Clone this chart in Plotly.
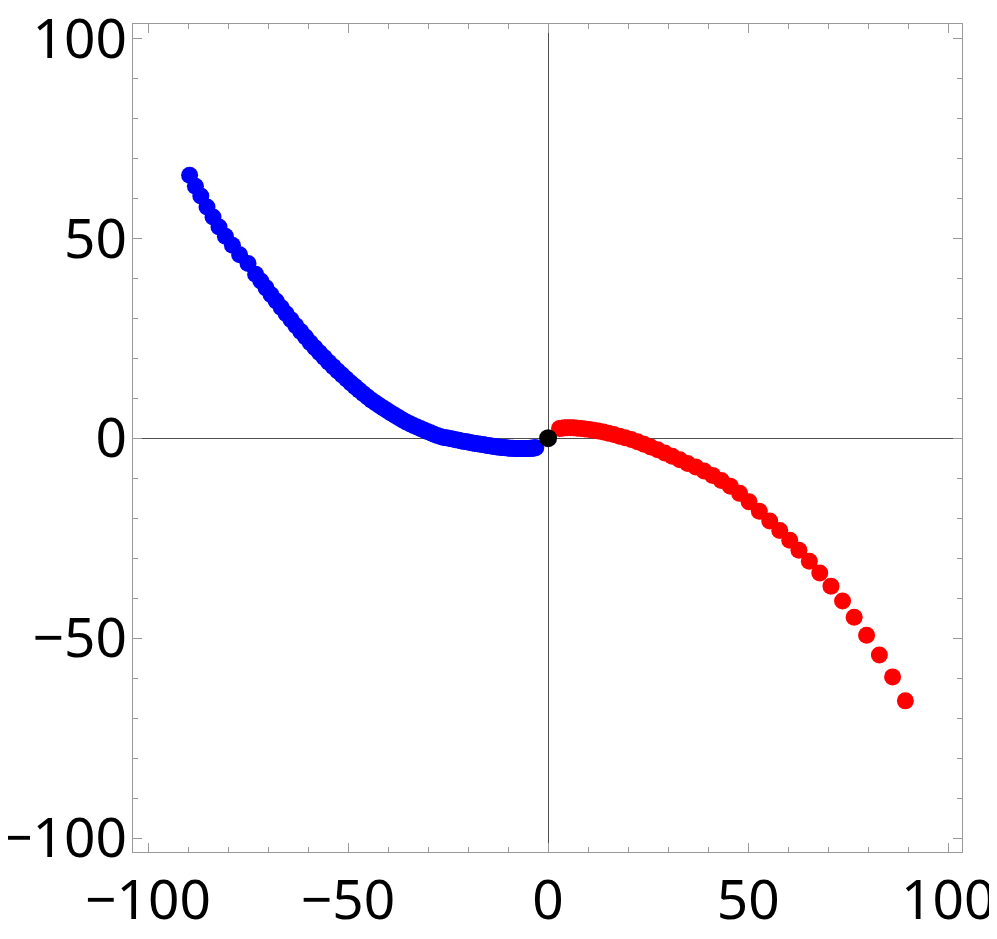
import plotly.graph_objects as go

# blue branch (left), ordered from the origin outwards
blue_x = [-3.08, -3.36, -3.64, -3.94, -4.25, -4.57, -4.90, -5.24, -5.60, -5.97,
          -6.35, -6.74, -7.14, -7.55, -7.98, -8.41, -8.86, -9.32, -9.80, -10.28,
          -10.77, -11.28, -11.80, -12.33, -12.87, -13.43, -13.99, -14.57, -15.16, -15.76,
          -16.37, -16.99, -17.63, -18.27, -18.93, -19.60, -20.28, -20.98, -21.68, -22.40,
          -23.13, -23.87, -24.62, -25.38, -26.16, -26.94, -27.74, -28.55, -29.37, -30.21,
          -31.05, -31.91, -32.78, -33.66, -34.55, -35.45, -36.37, -37.29, -38.23, -39.18,
          -40.14, -41.12, -42.10, -43.10, -44.11, -45.13, -46.16, -47.20, -48.26, -49.32,
          -50.40, -51.49, -52.59, -53.70, -54.83, -55.96, -57.11, -58.27, -59.44, -60.63,
          -61.82, -63.03, -64.24, -65.47, -66.71, -67.97, -69.23, -70.51, -71.80, -73.10,
          -75.0, -77.1, -78.9, -80.65, -82.25, -83.75, -85.25, -86.8, -88.15, -89.6]
blue_y = [-2.4, -2.4, -2.5, -2.5, -2.5, -2.5, -2.6, -2.6, -2.6, -2.6,
          -2.6, -2.6, -2.6, -2.6, -2.6, -2.6, -2.5, -2.5, -2.5, -2.4,
          -2.4, -2.3, -2.3, -2.2, -2.2, -2.1, -2.0, -1.9, -1.8, -1.7,
          -1.6, -1.5, -1.4, -1.3, -1.2, -1.1, -0.9, -0.8, -0.7, -0.5,
          -0.4, -0.2, -0.1, 0.1, 0.2, 0.4, 0.7, 1.0, 1.35, 1.7,
          2.05, 2.4, 2.8, 3.2, 3.6, 4.05, 4.58, 5.12, 5.68, 6.26,
          6.86, 7.49, 8.14, 8.81, 9.5, 10.3, 11.1, 12.0, 12.9, 13.8,
          14.8, 15.8, 16.8, 17.9, 19.0, 20.2, 21.4, 22.6, 23.9, 25.3,
          26.7, 28.1, 29.6, 31.1, 32.7, 34.3, 35.9, 37.6, 39.3, 41.0,
          43.7, 45.9, 48.25, 50.5, 52.8, 55.3, 57.8, 60.6, 63.0, 65.75]

# red branch (right)
red_x = [2.85, 3.45, 4.10, 4.81, 5.58, 6.41, 7.29, 8.23, 9.23, 10.28,
         11.39, 12.56, 13.78, 15.06, 16.40, 17.80, 19.25, 20.76, 22.33, 23.95,
         25.63, 27.37, 29.16, 31.01, 32.92, 34.88, 36.91, 38.98, 41.12, 43.31,
         45.56, 47.87, 50.23, 52.8, 55.4, 57.9, 60.4, 62.7, 65.3, 67.9,
         70.7, 73.6, 76.5, 79.6, 82.8, 86.1, 89.3]
red_y = [2.4, 2.5, 2.6, 2.6, 2.6, 2.6, 2.5, 2.4, 2.3, 2.15,
         2.0, 1.8, 1.55, 1.25, 0.9, 0.5, 0.1, -0.35, -0.9, -1.5,
         -2.2, -2.9, -3.7, -4.5, -5.4, -6.3, -7.2, -8.2, -9.3, -10.6,
         -12.0, -13.8, -15.9, -18.3, -20.7, -23.1, -25.5, -28.0, -30.75, -33.7,
         -37.0, -40.7, -44.8, -49.3, -54.2, -59.7, -65.7]

origin_x = [0]
origin_y = [0]

tick_vals = [-100, -50, 0, 50, 100]

fig = go.Figure()
fig.add_trace(go.Scatter(x=blue_x, y=blue_y, mode="markers",
                         marker=dict(color="#0000ff", size=17, line=dict(width=0))))
fig.add_trace(go.Scatter(x=red_x, y=red_y, mode="markers",
                         marker=dict(color="#ff0000", size=17, line=dict(width=0))))
fig.add_trace(go.Scatter(x=origin_x, y=origin_y, mode="markers",
                         marker=dict(color="#000000", size=18, line=dict(width=0))))

axis_style = dict(
    showgrid=False, automargin=False,
    zeroline=True, zerolinecolor="#4d4d4d", zerolinewidth=1,
    showline=True, linecolor="#999999", linewidth=1, mirror="ticks",
    ticks="inside", ticklen=9, tickwidth=1, tickcolor="#999999",
    tickvals=tick_vals, ticklabeloverflow="allow",
    minor=dict(ticks="inside", ticklen=5, tickwidth=1, tickcolor="#999999", dtick=10, tick0=0),
    tickfont=dict(family="Noto Sans", size=55, color="black"),
)

fig.update_xaxes(range=[-103.75, 103.45], **axis_style)
fig.update_yaxes(range=[-103.5, 103.6], ticklabelstandoff=-6, **axis_style)

# the page body adds an 8px offset at top/left, so the figure is 8px smaller than the window
fig.update_layout(
    width=989, height=931,
    margin=dict(l=125, r=35, t=16, b=87),
    paper_bgcolor="white", plot_bgcolor="white",
    showlegend=False,
)

fig.write_html("out.html")
